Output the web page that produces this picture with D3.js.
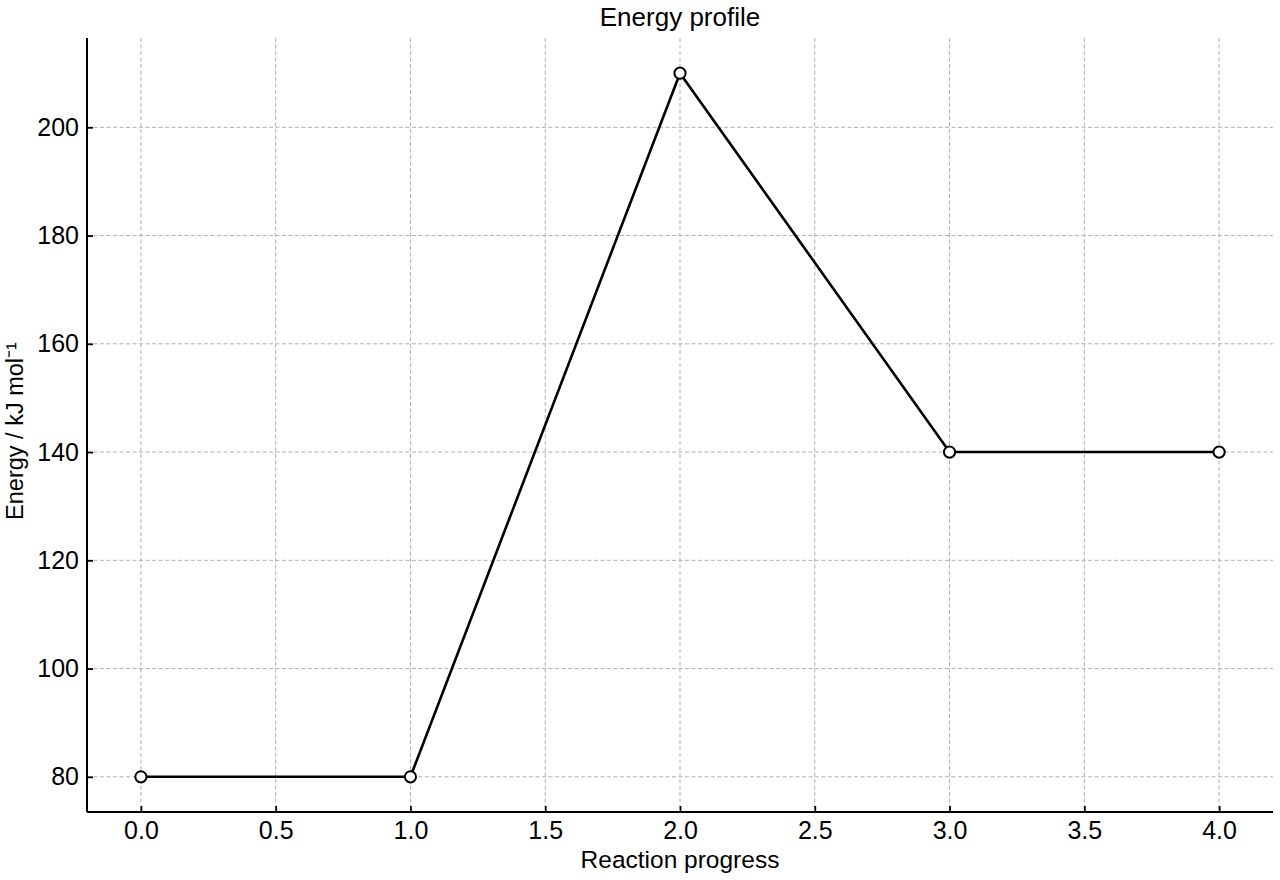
<!DOCTYPE html>
<html><head><meta charset="utf-8">
<script src="https://cdn.jsdelivr.net/npm/d3@7"></script>
<style>body{margin:0;background:#fff}svg{display:block}</style>
</head><body>
<svg id="c" width="1280" height="880"></svg>
<script>
const progress = [0, 1, 2, 3, 4];
const energy = [80, 80, 210, 140, 140];
const xTicks = [0, 0.5, 1, 1.5, 2, 2.5, 3, 3.5, 4];
const yTicks = [80, 100, 120, 140, 160, 180, 200];
const titleText = "Energy profile";
const xLabel = "Reaction progress";
const yLabel = "Energy / kJ mol\u207B\u00B9";

const svg = d3.select("#c");
const font = "'Liberation Sans', Arial, sans-serif";
const L = 87, R = 1273, T = 38, B = 812;
const x = d3.scaleLinear().domain([-0.2, 4.2]).range([L, R]);
const y = d3.scaleLinear().domain([73.5, 216.5]).range([B, T]);

// grid
const g = svg.append("g");
g.selectAll(".gx").data(xTicks).join("line")
  .attr("x1", d => x(d)).attr("x2", d => x(d)).attr("y1", T).attr("y2", B)
  .attr("stroke", "#b0b0b0").attr("stroke-width", 1).attr("stroke-dasharray", "4,2.5");
g.selectAll(".gy").data(yTicks).join("line")
  .attr("x1", L).attr("x2", R).attr("y1", d => y(d)).attr("y2", d => y(d))
  .attr("stroke", "#b0b0b0").attr("stroke-width", 1).attr("stroke-dasharray", "4,2.5");

// axes
const xAxis = d3.axisBottom(x).tickValues(xTicks).tickSizeInner(-6).tickSizeOuter(0).tickPadding(9)
  .tickFormat(d3.format(".1f"));
const yAxis = d3.axisLeft(y).tickValues(yTicks).tickSizeInner(-6).tickSizeOuter(0).tickPadding(8)
  .tickFormat(d3.format("d"));
const ax = svg.append("g").attr("transform", `translate(0,${B})`).call(xAxis);
const ay = svg.append("g").attr("transform", `translate(${L},0)`).call(yAxis);
[ax, ay].forEach(a => {
  a.select(".domain").attr("stroke", "#000").attr("stroke-width", 2);
  a.selectAll(".tick line").attr("stroke", "#000").attr("stroke-width", 1.8);
  a.selectAll(".tick text").attr("fill", "#000").style("font-family", font).style("font-size", "25px");
});
ax.select(".domain").attr("d", `M${L},0H${R}`);
ay.select(".domain").attr("d", `M0,${B}V${T}`);

// line
const line = d3.line().x((d, i) => x(progress[i])).y(d => y(d));
svg.append("path").datum(energy).attr("d", line)
  .attr("fill", "none").attr("stroke", "#000").attr("stroke-width", 2.6).attr("stroke-linejoin", "miter");
svg.selectAll(".pt").data(energy).join("circle")
  .attr("cx", (d, i) => x(progress[i])).attr("cy", d => y(d)).attr("r", 5.6)
  .attr("fill", "#fff").attr("stroke", "#000").attr("stroke-width", 2);

// labels
svg.append("text").attr("x", (L + R) / 2).attr("y", 26).attr("text-anchor", "middle")
  .style("font-family", font).style("font-size", "26px").text(titleText);
svg.append("text").attr("x", (L + R) / 2).attr("y", 868).attr("text-anchor", "middle")
  .style("font-family", font).style("font-size", "24.5px").text(xLabel);
svg.append("text").attr("transform", `translate(23,${(T + B) / 2 + 6}) rotate(-90)`).attr("text-anchor", "middle")
  .style("font-family", font).style("font-size", "23.5px").text(yLabel);
</script>
</body></html>
